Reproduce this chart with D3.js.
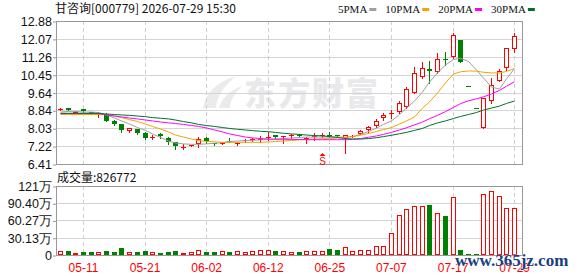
<!DOCTYPE html>
<html>
<head>
<meta charset="utf-8">
<title>甘咨询 K线</title>
<script src="https://cdn.jsdelivr.net/npm/d3@7/dist/d3.min.js"></script>
<style>
  html, body { margin: 0; padding: 0; background: #fff; }
  #chart svg { display: block; }
</style>
</head>
<body>
<div id="chart"></div>
<script>
// ---------- data ----------
const stockTitle = "甘咨询[000779] 2026-07-29 15:30";
const volTitle = "成交量:826772";

const dates = [
  "05-06","05-07","05-08","05-11","05-12","05-13","05-14","05-15","05-18","05-19",
  "05-20","05-21","05-22","05-25","05-26","05-27","05-28","05-29","06-01","06-02",
  "06-03","06-04","06-05","06-08","06-09","06-10","06-11","06-12","06-15","06-16",
  "06-17","06-18","06-22","06-23","06-24","06-25","06-26","06-29","06-30","07-01",
  "07-02","07-03","07-06","07-07","07-08","07-09","07-10","07-13","07-14","07-15",
  "07-16","07-17","07-20","07-21","07-22","07-23","07-24","07-27","07-28","07-29"
];

const openP = [
  8.87, 8.93, 8.76, 8.88, 8.76, 8.69, 8.69, 8.36, 8.22, 7.92,
  7.99, 7.81, 7.62, 7.75, 7.60, 7.41, 7.18, 7.25, 7.32, 7.60,
  7.34, 7.36, 7.46, 7.34, 7.45, 7.50, 7.52, 7.58, 7.72, 7.63,
  7.66, 7.74, 7.56, 7.66, 7.66, 7.72, 7.70, 7.60, 7.66, 7.77,
  7.93, 8.14, 8.48, 8.68, 8.78, 9.00, 9.64, 10.36, 10.70, 10.59,
  11.17, 11.26, 12.02, 9.94, 8.95, 8.06, 9.28, 10.18, 10.74, 11.60
];
const highP = [
  8.95, 8.96, 8.80, 8.88, 8.78, 8.75, 8.70, 8.38, 8.24, 8.03,
  8.00, 7.86, 7.72, 7.80, 7.62, 7.42, 7.30, 7.29, 7.62, 7.62,
  7.36, 7.42, 7.60, 7.42, 7.52, 7.60, 7.68, 7.88, 7.74, 7.66,
  7.76, 7.76, 7.65, 7.80, 7.83, 7.86, 7.72, 7.72, 7.72, 7.95,
  8.14, 8.43, 8.70, 8.85, 9.27, 9.88, 10.81, 11.04, 11.08, 11.42,
  11.47, 12.32, 12.02, 9.94, 8.95, 9.40, 10.28, 10.70, 11.68, 12.35
];
const lowP = [
  8.87, 8.86, 8.74, 8.78, 8.66, 8.55, 8.35, 8.19, 7.87, 7.87,
  7.78, 7.54, 7.54, 7.57, 7.33, 7.10, 7.09, 7.24, 7.19, 7.38,
  7.27, 7.31, 7.40, 7.27, 7.40, 7.45, 7.40, 7.50, 7.58, 7.35,
  7.58, 7.68, 7.35, 7.50, 7.62, 7.62, 7.64, 6.90, 7.64, 7.75,
  7.88, 8.08, 8.38, 8.48, 8.70, 8.93, 9.60, 10.29, 10.09, 10.51,
  10.89, 11.22, 11.04, 9.94, 8.95, 8.06, 9.16, 10.15, 10.66, 11.49
];
const closeP = [
  8.90, 8.87, 8.77, 8.82, 8.72, 8.72, 8.37, 8.23, 7.96, 8.02,
  7.83, 7.60, 7.64, 7.66, 7.42, 7.24, 7.20, 7.28, 7.54, 7.45,
  7.30, 7.38, 7.44, 7.37, 7.48, 7.54, 7.55, 7.62, 7.62, 7.66,
  7.70, 7.70, 7.58, 7.68, 7.70, 7.68, 7.66, 7.70, 7.68, 7.92,
  8.10, 8.37, 8.63, 8.71, 9.16, 9.79, 10.54, 10.74, 10.64, 11.15,
  11.13, 12.25, 11.04, 9.94, 8.95, 9.38, 9.99, 10.63, 11.65, 12.20
];
const volume = [
  70000, 75000, 40000, 52000, 52000, 52000, 70000, 52000, 122000, 52000,
  52000, 70000, 52000, 35000, 52000, 70000, 35000, 52000, 87000, 52000,
  52000, 70000, 52000, 70000, 52000, 70000, 87000, 82000, 70000, 70000,
  58000, 52000, 70000, 70000, 70000, 105000, 87000, 134000, 64000, 82000,
  82000, 152000, 152000, 384000, 699000, 798000, 856000, 856000, 873000, 728000,
  681000, 1008000, 87000, 17000, 17000, 1060000, 1112000, 1031000, 816000, 826772
];

// moving averages as drawn
const ma5 = [
  8.76, 8.79, 8.79, 8.76, 8.76, 8.74, 8.63, 8.49, 8.36, 8.22,
  8.06, 7.93, 7.77, 7.61, 7.45, 7.36, 7.32, 7.30, 7.30, 7.32,
  7.35, 7.38, 7.43, 7.45, 7.47, 7.48, 7.50, 7.52, 7.54, 7.56,
  7.59, 7.61, 7.63, 7.63, 7.63, 7.63, 7.63, 7.62, 7.65, 7.75,
  7.88, 8.03, 8.20, 8.36, 8.65, 8.94, 9.26, 9.67, 10.12, 10.53,
  10.89, 11.14, 11.19, 11.05, 10.66, 10.30, 9.89, 9.80, 10.26, 10.73
];
const ma10 = [
  8.65, 8.65, 8.65, 8.65, 8.65, 8.65, 8.65, 8.58, 8.51, 8.42,
  8.33, 8.22, 8.11, 7.99, 7.86, 7.72, 7.63, 7.54, 7.47, 7.43,
  7.41, 7.39, 7.39, 7.39, 7.39, 7.39, 7.39, 7.41, 7.43, 7.45,
  7.47, 7.50, 7.52, 7.54, 7.55, 7.56, 7.59, 7.61, 7.65, 7.71,
  7.79, 7.88, 7.97, 8.06, 8.22, 8.36, 8.54, 8.94, 9.22, 9.62,
  10.08, 10.48, 10.58, 10.62, 10.61, 10.56, 10.53, 10.53, 10.60, 10.73
];
const ma20 = [
  8.70, 8.70, 8.70, 8.70, 8.70, 8.70, 8.63, 8.58, 8.54, 8.49,
  8.45, 8.40, 8.36, 8.31, 8.27, 8.24, 8.20, 8.15, 8.11, 8.04,
  7.95, 7.86, 7.77, 7.70, 7.63, 7.59, 7.56, 7.54, 7.53, 7.53,
  7.52, 7.52, 7.51, 7.51, 7.51, 7.51, 7.51, 7.51, 7.52, 7.56,
  7.62, 7.68, 7.75, 7.84, 7.95, 8.05, 8.18, 8.31, 8.46, 8.61,
  8.78, 8.97, 9.14, 9.27, 9.36, 9.45, 9.58, 9.74, 9.93, 10.13
];
const ma30 = [
  8.70, 8.70, 8.70, 8.70, 8.70, 8.70, 8.67, 8.65, 8.63, 8.61,
  8.58, 8.55, 8.51, 8.48, 8.45, 8.40, 8.33, 8.27, 8.20, 8.15,
  8.11, 8.06, 8.02, 7.98, 7.95, 7.92, 7.89, 7.87, 7.84, 7.80,
  7.77, 7.75, 7.72, 7.70, 7.68, 7.65, 7.61, 7.56, 7.54, 7.54,
  7.56, 7.60, 7.65, 7.71, 7.78, 7.84, 7.93, 8.02, 8.15, 8.27,
  8.36, 8.47, 8.56, 8.65, 8.74, 8.85, 8.94, 9.03, 9.15, 9.26
];

const maNames = ["5PMA", "10PMA", "20PMA", "30PMA"];
const priceTicks = [6.41, 7.22, 8.03, 8.84, 9.64, 10.45, 11.26, 12.07, 12.88];
const volTicks = [0, 301330, 602670, 904000, 1205300];
const volTickLabels = ["0", "30.13万", "60.27万", "90.40万", "121万"];
const dateTicks = ["05-11", "05-21", "06-02", "06-12", "06-25", "07-07", "07-17", "07-29"];
const signals = [{ date: "06-24", label: "S" }];

// ---------- config ----------
const cfg = {
  width: 578, height: 276,
  left: 56, right: 522, bandEnd: 518,
  priceTop: 21, priceBottom: 164,
  volTop: 186, volBottom: 255
};
const maColors = ["#a0a0a0", "#f5a300", "#ff00ff", "#00702e"];
const RED = "#ff0000", GREEN = "#008000";
const numFont = "'Liberation Sans', Arial, sans-serif";
const cjkFont = "'Noto Sans CJK SC', sans-serif";

const rows = dates.map((d, i) => ({
  date: d, o: openP[i], h: highP[i], l: lowP[i], c: closeP[i], v: volume[i],
  up: closeP[i] > openP[i] || (closeP[i] === openP[i] && i > 0 && closeP[i] >= closeP[i - 1])
}));

// ---------- scales ----------
const x = d3.scaleBand().domain(dates).range([cfg.left, cfg.bandEnd]);
const cx = d => Math.round(x(d) + x.bandwidth() / 2);
const yP = d3.scaleLinear()
  .domain([priceTicks[0], priceTicks[priceTicks.length - 1]])
  .range([cfg.priceBottom, cfg.priceTop]);
const yV = d3.scaleLinear()
  .domain([0, volTicks[volTicks.length - 1]])
  .range([cfg.volBottom, cfg.volTop]);
const snap = v => Math.round(v) + 0.5;

const svg = d3.select("#chart").append("svg")
  .attr("width", cfg.width).attr("height", cfg.height)
  .attr("viewBox", [0, 0, cfg.width, cfg.height]);

svg.append("rect").attr("width", cfg.width).attr("height", cfg.height).attr("fill", "#fff");

// ---------- watermark (behind everything) ----------
const wm = svg.append("g").attr("class", "watermark");
wm.append("path")
  .attr("d", "M203,108 C205,94 216,82 236,76 C224,86 217,96 216,108 Z M219,108 C222,98 230,90 242,86 C234,94 230,101 230,108 Z")
  .attr("fill", "#ebebeb");
wm.append("text")
  .attr("x", 244).attr("y", 105)
  .attr("font-family", cjkFont).attr("font-weight", 900)
  .attr("font-size", 32).attr("letter-spacing", 2)
  .attr("fill", "#e9e9ec")
  .text("东方财富");

// ---------- grid ----------
function hGrid(scale, ticks, cls) {
  svg.append("g").attr("class", cls)
    .selectAll("line").data(ticks).join("line")
    .attr("x1", cfg.left).attr("x2", cfg.right)
    .attr("y1", d => snap(scale(d))).attr("y2", d => snap(scale(d)))
    .attr("stroke", "#d4d4d4").attr("stroke-width", 1);
}
hGrid(yP, priceTicks, "price-grid");
hGrid(yV, volTicks, "vol-grid");

function vGrid(top, bottom, cls) {
  svg.append("g").attr("class", cls)
    .selectAll("line").data(dateTicks).join("line")
    .attr("x1", d => cx(d) + 0.5).attr("x2", d => cx(d) + 0.5)
    .attr("y1", top).attr("y2", bottom)
    .attr("stroke", "#cfcfcf").attr("stroke-dasharray", "4,3");
}
vGrid(cfg.priceTop, cfg.priceBottom, "price-vgrid");
vGrid(cfg.volTop, cfg.volBottom, "vol-vgrid");

// panel borders
[[cfg.priceTop, cfg.priceBottom], [cfg.volTop, cfg.volBottom]].forEach(([t, b]) => {
  svg.append("rect")
    .attr("x", cfg.left + 0.5).attr("y", t + 0.5)
    .attr("width", cfg.right - cfg.left).attr("height", b - t)
    .attr("fill", "none").attr("stroke", "#999");
});

// ---------- axes ----------
function styleAxis(g) {
  g.select(".domain").remove();
  g.selectAll(".tick line").attr("stroke", "#999");
  g.selectAll("text").attr("font-family", numFont).attr("font-size", 12.5).attr("fill", "#111");
}
svg.append("g").attr("class", "y-axis")
  .attr("transform", `translate(${cfg.left},0.5)`)
  .call(d3.axisLeft(yP).tickValues(priceTicks).tickSize(3).tickPadding(1).tickFormat(d3.format(".2f")))
  .call(styleAxis);

svg.append("g").attr("class", "vol-axis")
  .attr("transform", `translate(${cfg.left},0.5)`)
  .call(d3.axisLeft(yV).tickValues(volTicks).tickSize(3).tickPadding(1).tickFormat((d, i) => volTickLabels[i]))
  .call(styleAxis);

svg.append("g").attr("class", "x-axis")
  .attr("transform", `translate(0.5,${cfg.volBottom})`)
  .call(d3.axisBottom(x).tickValues(dateTicks).tickSize(0).tickPadding(8))
  .call(g => g.select(".domain").remove())
  .call(g => g.selectAll("text").attr("font-family", numFont).attr("font-size", 12).attr("fill", RED));

// ---------- candles ----------
const candles = svg.append("g").attr("class", "candles");
candles.selectAll("line").data(rows).join("line")
  .attr("x1", d => cx(d.date) + 0.5).attr("x2", d => cx(d.date) + 0.5)
  .attr("y1", d => Math.round(yP(d.h))).attr("y2", d => Math.round(yP(d.l)) + 1)
  .attr("stroke", d => d.up ? RED : GREEN);

rows.forEach(d => {
  const px = cx(d.date);
  const top = Math.round(yP(Math.max(d.o, d.c)));
  const bot = Math.round(yP(Math.min(d.o, d.c)));
  const h = bot - top;
  const col = d.up ? RED : GREEN;
  if (h <= 1) {
    candles.append("rect").attr("x", px - 2).attr("y", top).attr("width", 5).attr("height", 1).attr("fill", col);
  } else if (d.up) {
    candles.append("rect").attr("x", px - 1.5).attr("y", top + 0.5).attr("width", 4).attr("height", h - 1)
      .attr("fill", "#fff").attr("stroke", col);
  } else {
    candles.append("rect").attr("x", px - 2).attr("y", top).attr("width", 5).attr("height", h).attr("fill", col);
  }
});

// ---------- moving averages ----------
[ma5, ma10, ma20, ma30].forEach((series, k) => {
  const line = d3.line()
    .x((v, i) => cx(dates[i]) + 0.5)
    .y(v => yP(v))
    .curve(d3.curveLinear);
  svg.append("path")
    .attr("class", "ma-line")
    .attr("d", line(series))
    .attr("fill", "none")
    .attr("stroke", maColors[k])
    .attr("stroke-width", 1);
});

// ---------- signal marker ----------
signals.forEach(s => {
  const r = rows.find(d => d.date === s.date);
  const px = cx(s.date) + 0.5;
  const yb = Math.round(yP(r.l)) + 16;
  svg.append("path")
    .attr("d", `M${px - 3},${yb + 3} L${px},${yb} L${px + 3},${yb + 3} Z`)
    .attr("fill", RED);
  svg.append("text")
    .attr("x", px).attr("y", yb + 12)
    .attr("text-anchor", "middle")
    .attr("font-family", numFont).attr("font-size", 10)
    .attr("fill", RED).text(s.label);
});

// ---------- volume ----------
const vol = svg.append("g").attr("class", "volume");
rows.forEach(d => {
  const px = cx(d.date);
  const top = Math.round(yV(d.v));
  const h = cfg.volBottom - top;
  const col = d.up ? RED : GREEN;
  if (h <= 2 || !d.up) {
    vol.append("rect").attr("x", px - 2).attr("y", top).attr("width", 5).attr("height", Math.max(h, 1)).attr("fill", col);
  } else {
    vol.append("rect").attr("x", px - 1.5).attr("y", top + 0.5).attr("width", 4).attr("height", h - 1)
      .attr("fill", "#fff").attr("stroke", col);
  }
});

// ---------- titles / legend ----------
svg.append("text")
  .attr("x", 55).attr("y", 13)
  .attr("font-family", cjkFont).attr("font-size", 12).attr("fill", "#111")
  .text(stockTitle);

svg.append("text")
  .attr("x", 57).attr("y", 182)
  .attr("font-family", cjkFont).attr("font-size", 12).attr("fill", "#111")
  .text(volTitle);

const legend = svg.append("g").attr("class", "legend");
let lx = 338;
maNames.forEach((name, k) => {
  const t = legend.append("text")
    .attr("x", lx).attr("y", 13)
    .attr("font-family", "'Liberation Serif', serif").attr("font-size", 11).attr("fill", "#111")
    .text(name);
  lx += t.node().getComputedTextLength() + 2;
  legend.append("rect").attr("x", lx).attr("y", 8).attr("width", 7).attr("height", 3).attr("fill", maColors[k]);
  lx += 7 + 9;
});

// site watermark on top
svg.append("text")
  .attr("x", 455).attr("y", 266)
  .attr("font-family", "'Liberation Serif', serif").attr("font-weight", "bold")
  .attr("font-size", 17).attr("fill", "#1c3f82")
  .attr("stroke", "#fff").attr("stroke-width", 0.6).attr("paint-order", "stroke")
  .text("www.365jz.com");
</script>
</body>
</html>
